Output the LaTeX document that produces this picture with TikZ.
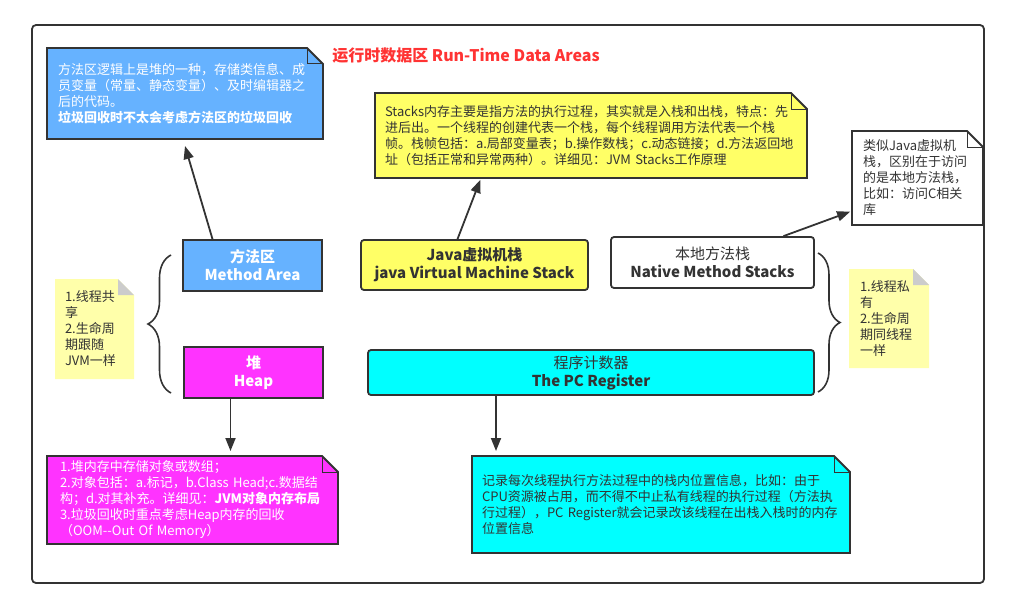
\documentclass[tikz,border=0pt]{standalone}
\usepackage{fontspec}
\setmainfont{Noto Sans CJK SC}
\usepackage{xcolor}
\usepackage{tikz}
\usetikzlibrary{arrows.meta,positioning,backgrounds,
                decorations.pathreplacing,calc}

\definecolor{ink}{HTML}{333333}
\definecolor{areablue}{HTML}{66B2FF}
\definecolor{heapmag}{HTML}{FF33FF}
\definecolor{stackyel}{HTML}{FFFF66}
\definecolor{pccyan}{HTML}{00FFFF}
\definecolor{memo}{HTML}{FFFFAA}
\definecolor{memofold}{HTML}{CCCCCC}
\definecolor{titlered}{HTML}{FF3333}

\tikzset{
  area/.style={draw=ink,line width=1.8pt,minimum height=51pt,align=center,
    inner sep=0pt,font=\fontsize{15}{18}\selectfont\bfseries},
  notetext/.style={anchor=north west,inner ysep=0pt,outer sep=0pt,align=left,
    font=\fontsize{13}{16}\selectfont},
  link/.style={draw=ink,line width=1.8pt,-{Triangle[length=13pt,width=10pt]}},
  curly/.style={draw=ink,line width=1.6pt,decorate,
    decoration={brace,amplitude=#1}},
}

% note with folded top right corner, drawn behind its text node
\newcommand\foldnote[2]{%
  \filldraw[fill=#2,draw=ink,line width=1.8pt,line join=miter]
    (#1.north west) -- ([xshift=-16pt]#1.north east)
    -- ([yshift=-16pt]#1.north east) -- (#1.south east)
    -- (#1.south west) -- cycle;
  \draw[ink,line width=1pt] ([xshift=-16pt]#1.north east) -- ++(0,-16pt)
    -- ([yshift=-16pt]#1.north east);}
% sticky memo, no border, grey fold
\newcommand\foldmemo[1]{%
  \fill[memo] (#1.north west) -- ([xshift=-16pt]#1.north east)
    -- ([yshift=-16pt]#1.north east) -- (#1.south east)
    -- (#1.south west) -- cycle;
  \fill[memofold] ([xshift=-16pt]#1.north east) -- ++(0,-16pt)
    -- ([yshift=-16pt]#1.north east) -- cycle;}

\begin{document}
\begin{tikzpicture}[x=1pt,y=-1pt]
  \begin{scope}[on background layer]
    \fill[white] (0,0) rectangle (1009,610);
  \end{scope}
  \useasboundingbox (0,0) rectangle (1009,610);
  \draw[ink,line width=1.8pt,rounded corners=4pt] (32,25) rectangle (984,583);
  \node[font=\fontsize{16}{19}\selectfont\bfseries,text=titlered] (title) at (466,56)
    {运行时数据区 Run-Time Data Areas};

  % areas
  \node[area,fill=areablue,text=white,minimum width=139pt] (ma) at (252.5,265.5)
    {方法区\\Method Area};
  \node[area,fill=heapmag,text=white,minimum width=139pt] (heap) at (253.5,372.5)
    {堆\\Heap};
  \node[area,fill=stackyel,text=ink,rounded corners=3pt,minimum width=227pt,
    minimum height=50pt] (jvms) at (474.5,265) {Java虚拟机栈\\java Virtual Machine Stack};
  \node[area,fill=white,text=ink,rounded corners=3pt,minimum width=203pt] (native)
    at (712.5,262.5) {{\mdseries 本地方法栈}\\Native Method Stacks};
  \node[area,fill=pccyan,text=ink,rounded corners=3pt,minimum width=446pt,
    minimum height=45pt] (pc) at (591,372.5) {{\mdseries 程序计数器}\\The PC Register};

  % notes
  \node[notetext,text=white,minimum width=276pt,minimum height=91pt,text width=254pt,
    inner xsep=11pt] (areanote) at (47,48)
    {方法区逻辑上是堆的一种，存储类信息、成\\员变量（常量、静态变量）、及时编辑器之\\后的代码。\\\textbf{垃圾回收时不太会考虑方法区的垃圾回收}};
  \node[notetext,text=ink,minimum width=432pt,minimum height=85pt,text width=412pt,
    inner xsep=10pt] (stacknote) at (375,93)
    {Stacks内存主要是指方法的执行过程，其实就是入栈和出栈，特点：先\\进后出。一个线程的创建代表一个栈，每个线程调用方法代表一个栈\\帧。栈帧包括：a.局部变量表；b.操作数栈；c.动态链接；d.方法返回地\\址（包括正常和异常两种）。详细见：JVM Stacks工作原理};
  \node[notetext,text=ink,minimum width=131pt,minimum height=94pt,text width=109pt,
    inner xsep=11pt] (nativenote) at (852,131)
    {类似Java虚拟机\\栈，区别在于访问\\的是本地方法栈，\\比如：访问C相关\\库};
  \node[notetext,text=white,minimum width=291pt,minimum height=88pt,text width=265pt,
    inner xsep=13pt] (heapnote) at (47,456)
    {1.堆内存中存储对象或数组；\\2.对象包括：a.标记，b.Class Head;c.数据结\\构；d.对其补充。详细见：\textbf{JVM对象内存布局}\\3.垃圾回收时重点考虑Heap内存的回收\\（OOM-{}-Out Of Memory）};
  \node[notetext,text=ink,minimum width=378pt,minimum height=97pt,text width=358pt,
    inner xsep=10pt] (pcnote) at (472,456)
    {记录每次线程执行方法过程中的栈内位置信息，比如：由于\\CPU资源被占用，而不得不中止私有线程的执行过程（方法执\\行过程），PC Register就会记录改该线程在出栈入栈时的内存\\位置信息};
  \node[notetext,text=ink,minimum width=79pt,minimum height=100pt,text width=59pt,
    inner xsep=10pt] (sharememo) at (55,279)
    {1.线程共\\享\\2.生命周\\期跟随\\JVM一样};
  \node[notetext,text=ink,minimum width=80pt,minimum height=99pt,text width=58pt,
    inner xsep=11pt] (privmemo) at (849,269)
    {1.线程私\\有\\2.生命周\\期同线程\\一样};

  \begin{scope}[on background layer]
    \foreach \n/\c in {areanote/areablue,stacknote/stackyel,nativenote/white,
                       heapnote/heapmag,pcnote/pccyan}{\foldnote{\n}{\c}}
    \foreach \n in {sharememo,privmemo}{\foldmemo{\n}}
  \end{scope}

  % connectors
  \draw[link] ([xshift=-40pt]ma.north) -- ([yshift=-7pt]areanote.south);
  \draw[link,shorten >=5pt] ([xshift=-23pt]heap.south)
    -- ([xshift=-23pt]heap.south |- heapnote.north);
  \draw[link,shorten >=2pt] ([xshift=-17pt]jvms.north) -- ([xshift=-110pt]stacknote.south);
  \draw[link,shorten >=2pt] ([xshift=71pt]native.north) -- ([yshift=-33pt]nativenote.west);
  \draw[link,shorten >=5pt] ([xshift=-95pt]pc.south)
    -- ([xshift=-95pt]pc.south |- pcnote.north);

  % braces
  \draw[curly=23pt] (171,393) -- (171,255);
  \draw[curly=22pt] (818,253) -- (818,392);
\end{tikzpicture}
\end{document}
